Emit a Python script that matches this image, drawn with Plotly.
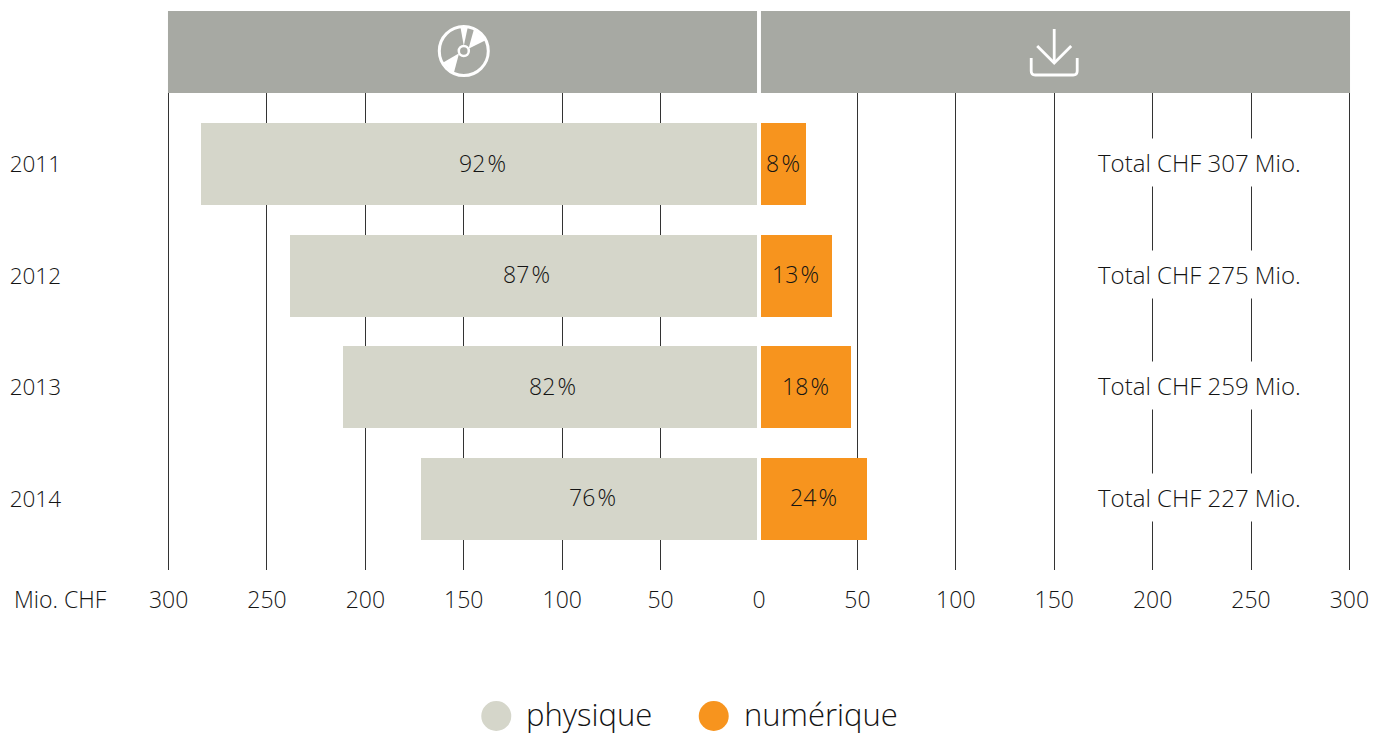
import plotly.graph_objects as go

years = ["2011", "2012", "2013", "2014"]
physique = [283.5, 238.5, 211.5, 171.5]
numerique = [24, 37, 46.5, 55]
pct_physique = ["92\u200a%", "87\u200a%", "82\u200a%", "76\u200a%"]
pct_numerique = ["8\u200a%", "13\u200a%", "18\u200a%", "24\u200a%"]
totals = ["Total CHF 307 Mio.", "Total CHF 275 Mio.", "Total CHF 259 Mio.", "Total CHF 227 Mio."]
tick_vals = [-300, -250, -200, -150, -100, -50, 0, 50, 100, 150, 200, 250, 300]
tick_text = ["300", "250", "200", "150", "100", "50", "0", "50", "100", "150", "200", "250", "300"]
legend_names = ["physique", "numérique"]
C_PHYS, C_NUM, C_HEAD, C_TEXT, C_GRID = "#d5d6ca", "#f7941e", "#a7a9a3", "#141414", "#333333"
FONT = "Open Sans"
F = dict(family=FONT, size=23, color=C_TEXT, weight=300)
F_YEAR = dict(family=FONT, size=22.5, color=C_TEXT, weight=300)
F_TOTAL = dict(family=FONT, size=24, color=C_TEXT, weight=300)
H = 477

fig = go.Figure()
fig.add_bar(y=years, x=[-v for v in physique], orientation="h", marker=dict(color=C_PHYS, line_width=0), width=0.734,
            showlegend=False, hoverinfo="skip")
fig.add_bar(y=years, x=numerique, orientation="h", marker=dict(color=C_NUM, line_width=0), width=0.734,
            showlegend=False, hoverinfo="skip")

shapes = [
    dict(type="rect", xref="x", yref="paper", x0=-300.3, x1=-1, y0=1, y1=1 + 82 / H, fillcolor=C_HEAD, line_width=0, layer="above"),
    dict(type="rect", xref="x", yref="paper", x0=1, x1=300.3, y0=1, y1=1 + 82 / H, fillcolor=C_HEAD, line_width=0, layer="above"),
    dict(type="line", xref="x", yref="paper", x0=0, x1=0, y0=0, y1=1, line=dict(color="white", width=4), layer="above"),
]


def icon(xval, path=None, circle=None, fill=None, sw=0):
    d = dict(xref="x", yref="paper", xsizemode="pixel", ysizemode="pixel", xanchor=xval, yanchor=1,
             line=dict(color="white", width=sw), layer="above")
    if fill:
        d["fillcolor"] = fill
    if path:
        d.update(type="path", path=path)
    else:
        r, cy = circle
        d.update(type="circle", x0=-r, x1=r, y0=cy - r, y1=cy + r)
    return d


cd_x, dl_x = -150, 150
shapes += [
    icon(cd_x, circle=(24.5, 42), sw=3),
    icon(cd_x, path="M -3.3 65.7 L 4 66 L 0 47 Z", fill="white"),
    icon(cd_x, path="M 10.3 64.3 L 22.3 53 L 4.7 44.3 Z", fill="white"),
    icon(cd_x, path="M -21 30.3 L -10.3 18.7 L -4.7 39.7 Z", fill="white"),
    icon(cd_x, circle=(5, 42), fill=C_HEAD, sw=2.5),
    icon(dl_x, path="M 0 64 L 0 31", sw=2.8),
    icon(dl_x, path="M -17 47 L 0 30 L 17 47", sw=2.8),
    icon(dl_x, path="M -23 35 L -23 22 Q -23 18 -19 18 L 19 18 Q 23 18 23 22 L 23 35", sw=2.8),
]

annotations = []
for name, col, cx, tx in zip(legend_names, [C_PHYS, C_NUM], [-133.5, -23], [-119.5, -8.5]):
    shapes.append(dict(type="circle", xref="x", yref="paper", xsizemode="pixel", ysizemode="pixel", xanchor=cx,
                       yanchor=-146 / H, x0=-15, x1=15, y0=-15, y1=15, fillcolor=col, line_width=0))
    annotations.append(dict(xref="x", yref="paper", x=tx, y=-144 / H, text=name, showarrow=False, xanchor="left",
                            yanchor="middle", font=dict(family=FONT, size=31, color=C_TEXT, weight=300)))

for i, t in enumerate(totals):
    annotations.append(dict(x=223.6, y=i, xref="x", yref="y", text=t, showarrow=False, bgcolor="white", borderpad=7,
                            yshift=1.5, font=F_TOTAL))
for i in range(4):
    annotations.append(dict(x=-physique[i] / 2, y=i, xref="x", yref="y", text=pct_physique[i], showarrow=False,
                            xshift=2, yshift=1.5, font=F))
    annotations.append(dict(x=numerique[i] / 2, y=i, xref="x", yref="y", text=pct_numerique[i], showarrow=False,
                            xshift=0.5, yshift=1.5, font=F))
annotations.append(dict(x=-300, y=-29 / H, xref="x", yref="paper", text="Mio. CHF", showarrow=False, xanchor="right",
                        xshift=-60, yanchor="middle", font=F))

fig.update_layout(
    width=1373, height=734, margin=dict(l=167, r=22, t=93, b=164, autoexpand=False),
    barmode="relative", bargap=0, plot_bgcolor="white", paper_bgcolor="white",
    font=F, shapes=shapes, annotations=annotations,
    xaxis=dict(range=[-300.8, 300.8], tickvals=tick_vals, ticktext=tick_text, showgrid=True, gridcolor=C_GRID, gridwidth=1,
               zeroline=False, ticks="", showline=False, ticklabelstandoff=14, tickfont=F),
    yaxis=dict(type="category", categoryorder="array", categoryarray=years, range=[3.636, -0.636], showgrid=False,
               zeroline=False, ticks="", showline=False, ticklabelstandoff=105, tickfont=F_YEAR),
)
fig.write_html("out.html", config=dict(displayModeBar=False), post_script="document.body.style.margin='0';")
